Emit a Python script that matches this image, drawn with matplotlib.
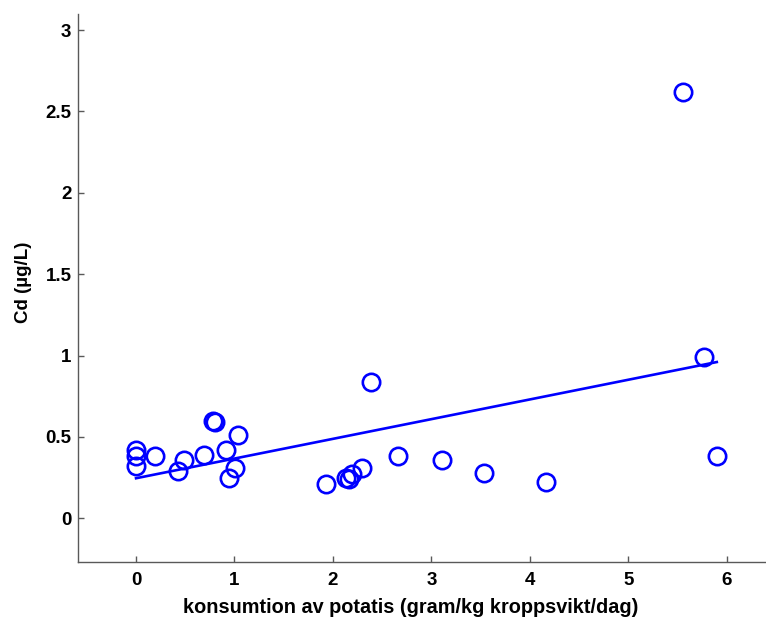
import matplotlib
matplotlib.use("Agg")
import matplotlib.pyplot as plt
import numpy as np
from matplotlib.ticker import FormatStrFormatter

# potato intake (g/kg body weight/day) and blood Cd (ug/L)
potato = [0, 0, 0, 0.19, 0.43, 0.49, 0.69, 0.78, 0.80, 0.91, 1.04, 1.01, 0.94,
          1.93, 2.13, 2.16, 2.19, 2.30, 2.39, 2.66, 3.11, 3.53, 4.16, 5.56, 5.77, 5.90]
cd = [0.42, 0.38, 0.32, 0.38, 0.29, 0.36, 0.39, 0.60, 0.59, 0.42, 0.51, 0.31, 0.25,
      0.21, 0.25, 0.24, 0.27, 0.31, 0.84, 0.38, 0.36, 0.28, 0.22, 2.62, 0.99, 0.38]
x_ticks = [0, 1, 2, 3, 4, 5, 6]
y_ticks = [0, 0.5, 1, 1.5, 2, 2.5, 3]

plt.rcParams['font.family'] = ['Liberation Sans', 'DejaVu Sans']

fig = plt.figure(figsize=(7.66, 6.19), dpi=100)
ax = fig.add_axes([0.1014, 0.0926, 0.8986, 0.8846])

x = np.array(potato)
y = np.array(cd)
ax.plot(x, y, 'o', mfc='none', mec='#0000ff', ms=12.5, mew=1.9)

# least squares line over the data range
slope, icept = np.polyfit(x, y, 1)
xf = np.array([x.min(), x.max()])
ax.plot(xf, slope * xf + icept, '-', color='#0000ff', lw=1.9)

ax.set_xlim(-0.593, 6.40)
ax.set_ylim(-0.267, 3.098)
ax.set_xticks(x_ticks)
ax.set_yticks(y_ticks)
ax.xaxis.set_major_formatter(FormatStrFormatter('%g'))
ax.yaxis.set_major_formatter(FormatStrFormatter('%g'))

for s in ['top', 'right']:
    ax.spines[s].set_visible(False)
for s in ['left', 'bottom']:
    ax.spines[s].set_color('0.35')
    ax.spines[s].set_linewidth(1.0)
ax.tick_params(direction='in', length=4, color='0.35', width=1.0, labelsize=13.5)
ax.tick_params(axis='x', pad=7.5)
ax.tick_params(axis='y', pad=4.5)
for lab in ax.get_xticklabels() + ax.get_yticklabels():
    lab.set_fontweight('bold')

ax.set_xlabel('konsumtion av potatis (gram/kg kroppsvikt/dag)', fontsize=14.3, fontweight='bold')
ax.set_ylabel('Cd (µg/L)', fontsize=13.5, fontweight='bold')
ax.xaxis.set_label_coords((411 - 77.7) / (766 - 77.7), -0.066)
ax.yaxis.set_label_coords(-0.066, 0.51)

fig.savefig('out.png', dpi=100)
